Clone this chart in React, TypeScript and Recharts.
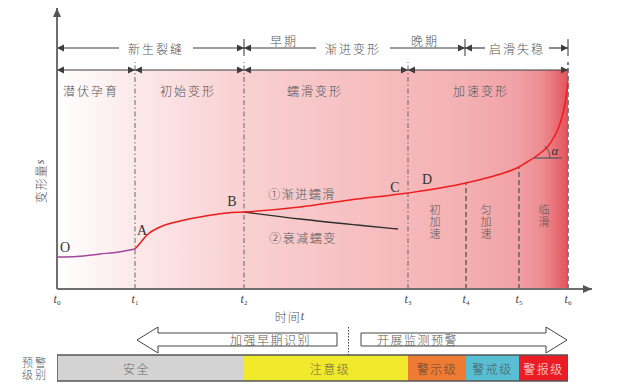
import React from 'react';
import { ComposedChart, BarChart, Bar, Line, XAxis, YAxis, ReferenceArea, ReferenceLine, ReferenceDot } from 'recharts';

// time axis marks t0..t6 (units)
const tMarks = [0, 78, 187, 351, 409, 462, 511];
const tSubs = ['0', '1', '2', '3', '4', '5', '6'];

// O -> A, latent stage (purple)
const latentT = [0, 20, 43, 62, 78];
const latentS = [32, 32.5, 35, 37, 40];

// A -> end, main creep curve (red)
const creepT = [78, 84, 90, 103, 123, 143, 170, 187, 243, 293, 351, 409, 440, 462, 470, 478, 486, 492, 497, 501, 505, 508, 511];
const creepS = [40, 47, 54, 62, 68, 72, 76, 77, 82, 89, 96, 106, 114, 122, 127, 132, 138, 144, 152, 160, 172, 185, 207];

// B -> attenuating creep (black)
const decayT = [187, 243, 300, 341];
const decayS = [77, 70, 64, 60];

// top row: crack phases
const phaseNames = ['新生裂缝', '渐进变形', '启滑失稳'];
const phaseEdges = [0, 187, 408, 511];
const phaseLabelT = [99, 296, 460];
const periodNames = ['早期', '晚期'];
const periodT = [227, 368];

// second row: deformation stages
const stageNames = ['潜伏孕育', '初始变形', '蠕滑变形', '加速变形'];
const stageEdges = [0, 78, 187, 351, 511];
const stageLabelT = [34, 131, 258, 424];

// guide lines t1..t6, top end
const guideTop = [227, 227, 227, 106, 122, 227];

// point labels on the curve
const pointNames = ['O', 'A', 'B', 'C', 'D'];
const pointT = [8, 85, 175, 338, 370];
const pointS = [42, 59, 88, 102, 110];

const curveNames = ['①渐进蠕滑', '②衰减蠕变'];
const curveLabelT = [245, 246];
const curveLabelS = [96, 52];

const accelNames = ['初加速', '匀加速', '临滑'];
const accelT = [378, 429, 487];

// warning rows
const actionKeys = ['前导', '加强早期识别', '分界', '开展监测预警'];
const actionSpans = [80, 200, 24, 206];
const levelNames = ['安全', '注意级', '警示级', '警戒级', '警报级'];
const levelSpans = [187, 164, 58, 53, 49];

const PHASE_S = 241;
const STAGE_S = 219;

const levelFill = ['#d3d3d3', '#f1e92b', '#ef7b33', '#58bfd3', '#ec1c24'];
const levelText = ['#6a6a6a', '#6a6a4a', '#5a4638', '#4f5a60', '#fbe9e9'];
const levelDx = [-14, 4, 0, 0, 0];

const ink = '#3d3d3d';
const txt = '#555555';
const cjk = '"Noto Sans CJK SC", "Noto Sans", sans-serif';
const serif = '"Liberation Serif", "DejaVu Serif", serif';

const toPts = (ts: number[], ss: number[]) => ts.map((t, i) => ({ t, s: ss[i] }));

const headL = (x: number, y: number) => `${x},${y} ${x + 7},${y - 3.5} ${x + 7},${y + 3.5}`;
const headR = (x: number, y: number) => `${x},${y} ${x - 7},${y - 3.5} ${x - 7},${y + 3.5}`;

// double arrow between two stage edges, optional label breaking the line
const spanShape = (label?: string, labelT = 0, ta = 0, tb = 1, half = 0) => (p: any) => {
  const { x1, x2, y1 } = p;
  const y = y1;
  if (!label) {
    return (
      <g>
        <line x1={x1} x2={x2} y1={y} y2={y} stroke={ink} strokeWidth={1.2} />
        <polygon points={headL(x1, y)} fill={ink} />
        <polygon points={headR(x2, y)} fill={ink} />
      </g>
    );
  }
  const cx = x1 + ((labelT - ta) / (tb - ta)) * (x2 - x1);
  return (
    <g>
      <line x1={x1} x2={cx - half} y1={y} y2={y} stroke={ink} strokeWidth={1.2} />
      <line x1={cx + half} x2={x2} y1={y} y2={y} stroke={ink} strokeWidth={1.2} />
      <polygon points={headL(x1, y)} fill={ink} />
      <polygon points={headR(x2, y)} fill={ink} />
      <text x={cx} y={y} textAnchor="middle" dominantBaseline="central" fontFamily={cjk} fontSize={12} fontWeight={300} letterSpacing={2} fill={txt}>
        {label}
      </text>
    </g>
  );
};

const note = (text: string, opts: any = {}) => (p: any) => (
  <text
    x={p.cx}
    y={p.cy}
    textAnchor="middle"
    dominantBaseline="central"
    fontFamily={opts.font || cjk}
    fontSize={opts.size || 12}
    fontWeight={opts.font ? 400 : 300}
    letterSpacing={opts.ls ?? 1.5}
    fill={opts.fill || txt}
    fontStyle={opts.italic ? 'italic' : 'normal'}
  >
    {text}
  </text>
);

// vertical text, top of first glyph near cy
const vnote = (text: string) => (p: any) => (
  <text
    x={p.cx}
    y={p.cy - 6}
    style={{ writingMode: 'vertical-rl' }}
    textAnchor="start"
    fontFamily={cjk}
    fontSize={11}
    fontWeight={300}
    letterSpacing={1}
    fill={txt}
  >
    {text}
  </text>
);

const TimeTick = (props: any) => {
  const { x, y, payload } = props;
  const i = tMarks.indexOf(payload.value);
  return (
    <text x={x} y={y + 14} textAnchor="middle" fill="#444" fontFamily={serif} fontSize={12}>
      <tspan fontStyle="italic">t</tspan>
      <tspan fontSize={7} dy={2}>{tSubs[i]}</tspan>
    </text>
  );
};

const upHead = (p: any) => <polygon points={`${p.cx},${p.cy} ${p.cx - 4},${p.cy + 9} ${p.cx + 4},${p.cy + 9}`} fill="#555" />;
const rightHead = (p: any) => <polygon points={`${p.cx},${p.cy} ${p.cx - 9},${p.cy - 4} ${p.cx - 9},${p.cy + 4}`} fill="#555" />;

const angleMark = (p: any) => {
  const { cx, cy } = p;
  const r = 16;
  const a = (48 * Math.PI) / 180;
  return (
    <g>
      <line x1={cx} y1={cy} x2={cx + 28} y2={cy} stroke="#555" strokeWidth={1.2} />
      <path d={`M ${cx + r} ${cy} A ${r} ${r} 0 0 0 ${cx + r * Math.cos(a)} ${cy - r * Math.sin(a)}`} fill="none" stroke="#555" strokeWidth={1} />
    </g>
  );
};

const yLabel = (p: any) => (
  <text x={p.cx} y={p.cy} transform={`rotate(-90 ${p.cx} ${p.cy})`} textAnchor="middle" dominantBaseline="central" fontFamily={cjk} fontSize={12} fontWeight={300} letterSpacing={1} fill={txt}>
    变形量<tspan fontFamily={serif} fontStyle="italic">s</tspan>
  </text>
);

const xLabel = (p: any) => (
  <text x={p.cx} y={p.cy} textAnchor="middle" dominantBaseline="central" fontFamily={cjk} fontSize={12} fontWeight={300} letterSpacing={1} fill={txt}>
    时间<tspan fontFamily={serif} fontStyle="italic">t</tspan>
  </text>
);

// bottom rows
const warnRows = [
  {
    row: '预警措施',
    ...Object.fromEntries(actionKeys.map((k, i) => [k, actionSpans[i]])),
    ...Object.fromEntries(levelNames.map((k) => [k, 0])),
  },
  {
    row: '预警级别',
    ...Object.fromEntries(actionKeys.map((k) => [k, 0])),
    ...Object.fromEntries(levelNames.map((k, i) => [k, levelSpans[i]])),
  },
];

const actionShape = (key: string) => (p: any) => {
  const { x, y, width: w, height: h } = p;
  if (!w || key === '前导') return <g />;
  if (key === '分界') {
    const mx = x + w / 2 - 0.5;
    return <line x1={mx} x2={mx} y1={y} y2={y + h + 4} stroke="#444" strokeWidth={1} strokeDasharray="1.5 1.5" />;
  }
  const m = y + h / 2;
  const st = y + 6;
  const sb = y + h - 7;
  const hl = 21;
  const left = key === '加强早期识别';
  const pts = left
    ? `${x},${m} ${x + hl},${y} ${x + hl},${st} ${x + w},${st} ${x + w},${sb} ${x + hl},${sb} ${x + hl},${y + h}`
    : `${x + w},${m} ${x + w - hl},${y} ${x + w - hl},${st} ${x},${st} ${x},${sb} ${x + w - hl},${sb} ${x + w - hl},${y + h}`;
  return (
    <g>
      <polygon points={pts} fill="#fff" stroke="#444" strokeWidth={1} />
      <text
        x={left ? x + w - 26 : x + 16}
        y={(st + sb) / 2}
        textAnchor={left ? 'end' : 'start'}
        dominantBaseline="central"
        fontFamily={cjk}
        fontSize={12}
        fontWeight={300}
        letterSpacing={1.5}
        fill={txt}
      >
        {key}
      </text>
    </g>
  );
};

const levelShape = (i: number) => (p: any) => {
  const { x, y, width: w, height: h } = p;
  if (!w) return <g />;
  return (
    <g>
      <rect x={x} y={y} width={w} height={h} fill={levelFill[i]} />
      <line x1={x} x2={x + w} y1={y} y2={y} stroke="#555" strokeWidth={1.5} />
      <line x1={x} x2={x + w} y1={y + h} y2={y + h} stroke="#555" strokeWidth={1.5} />
      {i === 0 && <line x1={x} x2={x} y1={y} y2={y + h} stroke="#555" strokeWidth={1.5} />}
      {i === levelNames.length - 1 && <line x1={x + w} x2={x + w} y1={y} y2={y + h} stroke="#555" strokeWidth={1.5} />}
      <text x={x + w / 2 + levelDx[i]} y={y + h / 2} textAnchor="middle" dominantBaseline="central" fontFamily={cjk} fontSize={12} fontWeight={300} letterSpacing={1.5} fill={levelText[i]}>
        {levelNames[i]}
      </text>
    </g>
  );
};

const RowTick = (p: any) => {
  const { x, y, payload } = p;
  if (payload.value !== '预警级别') return <g />;
  const v: string = payload.value;
  return (
    <text textAnchor="middle" fontFamily={cjk} fontSize={11} fontWeight={300} letterSpacing={2} fill={txt}>
      <tspan x={x - 22} y={y - 1}>{v.slice(0, 2)}</tspan>
      <tspan x={x - 22} y={y + 11}>{v.slice(2)}</tspan>
    </text>
  );
};

export default function App() {
  return (
    <div style={{ position: 'absolute', left: 0, top: 0, width: 618, height: 385, background: '#fff' }}>
      <div style={{ position: 'absolute', left: 0, top: 0 }}>
        <ComposedChart width={618} height={330} margin={{ top: 8, right: 26, bottom: 11, left: 17 }}>
          <defs>
            <linearGradient id="bgGrad" x1="0" y1="0" x2="1" y2="0">
              <stop offset="0" stopColor="#ffffff" />
              <stop offset="0.15" stopColor="#fce9ea" />
              <stop offset="0.37" stopColor="#f9d0d1" />
              <stop offset="0.69" stopColor="#f6b8ba" />
              <stop offset="0.8" stopColor="#f4b0b2" />
              <stop offset="0.9" stopColor="#f1a1a5" />
              <stop offset="0.95" stopColor="#ed8c91" />
              <stop offset="1" stopColor="#e4535c" />
            </linearGradient>
          </defs>
          <XAxis
            type="number"
            dataKey="t"
            domain={[0, 535]}
            allowDataOverflow
            ticks={tMarks}
            interval={0}
            tick={TimeTick}
            tickLine={false}
            tickSize={0}
            tickMargin={0}
            height={30}
            axisLine={{ stroke: '#6e6e6e', strokeWidth: 2 }}
          />
          <YAxis type="number" domain={[0, 281]} allowDataOverflow width={40} tick={false} tickLine={false} axisLine={{ stroke: '#6e6e6e', strokeWidth: 2 }} />

          <ReferenceArea x1={0} x2={511} y1={0} y2={STAGE_S} fill="url(#bgGrad)" fillOpacity={1} stroke="none" />

          {tMarks.slice(1).map((t, i) => (
            <ReferenceLine
              key={`g${i}`}
              segment={[{ x: t, y: 0 }, { x: t, y: guideTop[i] }]}
              stroke={i < 3 ? '#666' : '#727272'}
              strokeWidth={i < 3 ? 1 : 1.8}
              strokeDasharray={i < 3 ? '5 2.5 1.5 2.5' : '5 3'}
            />
          ))}
          {[phaseEdges[1], phaseEdges[2], phaseEdges[3]].map((t, i) => (
            <ReferenceLine key={`k${i}`} segment={[{ x: t, y: 233 }, { x: t, y: 250 }]} stroke="#555" strokeWidth={1.2} />
          ))}

          {phaseNames.map((n, i) => (
            <ReferenceLine
              key={`p${i}`}
              segment={[{ x: phaseEdges[i], y: PHASE_S }, { x: phaseEdges[i + 1], y: PHASE_S }]}
              shape={spanShape(n, phaseLabelT[i], phaseEdges[i], phaseEdges[i + 1], i === 2 ? 32 : 37)}
            />
          ))}
          {periodNames.map((n, i) => (
            <ReferenceDot key={`pd${i}`} x={periodT[i]} y={PHASE_S + 8} r={0} ifOverflow="visible" shape={note(n, { ls: 2 })} />
          ))}
          {stageNames.map((n, i) => (
            <ReferenceLine key={`s${i}`} segment={[{ x: stageEdges[i], y: STAGE_S }, { x: stageEdges[i + 1], y: STAGE_S }]} shape={spanShape()} />
          ))}
          {stageNames.map((n, i) => (
            <ReferenceDot key={`sl${i}`} x={stageLabelT[i]} y={STAGE_S - 20} r={0} ifOverflow="visible" shape={note(n, { ls: 2 })} />
          ))}

          <Line data={toPts(decayT, decayS)} dataKey="s" type="monotone" stroke="#2e2e2e" strokeWidth={1.3} dot={false} isAnimationActive={false} />
          <Line data={toPts(latentT, latentS)} dataKey="s" type="monotone" stroke="#a3459b" strokeWidth={1.4} dot={false} isAnimationActive={false} />
          <Line data={toPts(creepT, creepS)} dataKey="s" type="monotone" stroke="#f01c1c" strokeWidth={1.5} dot={false} isAnimationActive={false} />

          {pointNames.map((n, i) => (
            <ReferenceDot key={`pt${i}`} x={pointT[i]} y={pointS[i]} r={0} ifOverflow="visible" shape={note(n, { font: serif, size: 14, ls: 0, fill: '#333' })} />
          ))}
          {curveNames.map((n, i) => (
            <ReferenceDot key={`cv${i}`} x={curveLabelT[i]} y={curveLabelS[i]} r={0} ifOverflow="visible" shape={note(n, { ls: 1.5 })} />
          ))}
          {accelNames.map((n, i) => (
            <ReferenceDot key={`ac${i}`} x={accelT[i]} y={79} r={0} ifOverflow="visible" shape={vnote(n)} />
          ))}
          <ReferenceDot x={477} y={131} r={0} ifOverflow="visible" shape={angleMark} />
          <ReferenceDot x={498} y={139} r={0} ifOverflow="visible" shape={note('α', { font: serif, size: 13, ls: 0, italic: true, fill: '#333' })} />

          <ReferenceDot x={0} y={281} r={0} ifOverflow="visible" shape={upHead} />
          <ReferenceDot x={535} y={0} r={0} ifOverflow="visible" shape={rightHead} />
          <ReferenceDot x={-17} y={108} r={0} ifOverflow="visible" shape={yLabel} />
          <ReferenceDot x={233} y={-27} r={0} ifOverflow="visible" shape={xLabel} />
        </ComposedChart>
      </div>
      <div style={{ position: 'absolute', left: 0, top: 320 }}>
        <BarChart layout="vertical" width={618} height={65} data={warnRows} margin={{ top: 6, right: 50, bottom: 3, left: 0 }} barCategoryGap={1}>
          <XAxis type="number" domain={[0, 511]} allowDataOverflow hide />
          <YAxis type="category" dataKey="row" width={57} axisLine={false} tickLine={false} tickSize={0} tickMargin={0} tick={RowTick} />
          {actionKeys.map((k) => (
            <Bar key={k} dataKey={k} stackId="w" shape={actionShape(k)} isAnimationActive={false} />
          ))}
          {levelNames.map((k, i) => (
            <Bar key={k} dataKey={k} stackId="w" shape={levelShape(i)} isAnimationActive={false} />
          ))}
        </BarChart>
      </div>
    </div>
  );
}
